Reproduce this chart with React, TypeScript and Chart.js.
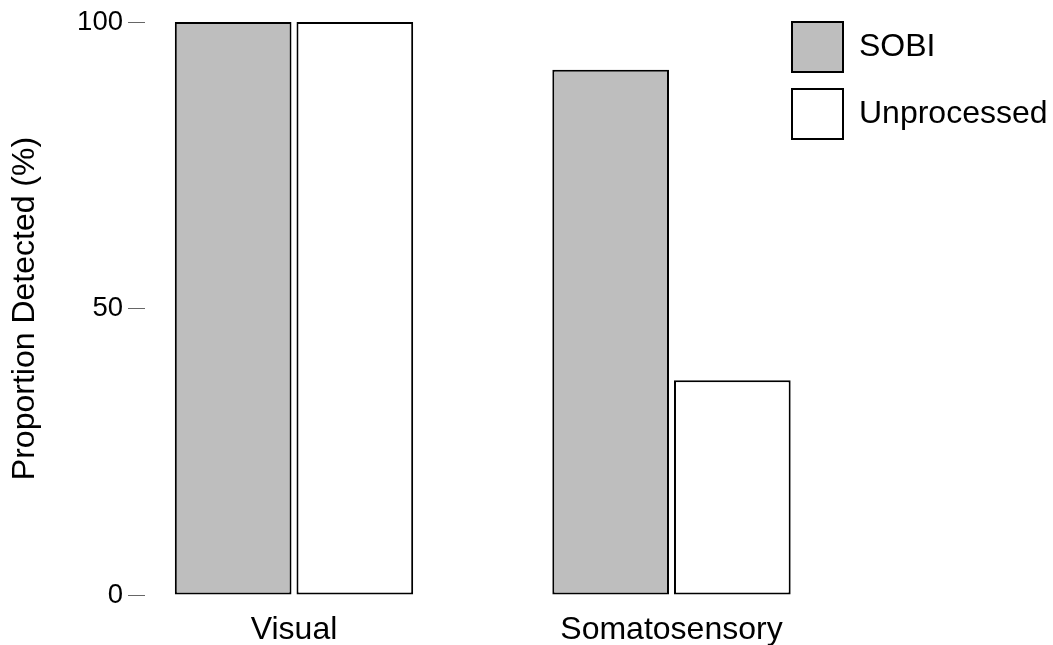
import { useEffect, useRef } from 'react';
import { Chart, registerables } from 'chart.js';

Chart.register(...registerables);

const categories = ['Visual', 'Somatosensory'];
const seriesNames = ['SOBI', 'Unprocessed'];
const sobiValues = [100, 91.67];
const unprocessedValues = [100, 37.5];
const yTickValues = [0, 50, 100];
const yTitle = 'Proportion Detected (%)';

const FONT = '"Liberation Sans", Arial, Helvetica, sans-serif';

export default function App() {
  const ref = useRef<HTMLCanvasElement>(null);

  useEffect(() => {
    if (!ref.current) return;
    const toPoints = (vals: number[]) => vals.map((y, i) => ({ x: i + 1, y }));
    const chart = new Chart(ref.current, {
      type: 'bar',
      data: {
        datasets: [
          {
            label: seriesNames[0],
            data: toPoints(sobiValues),
            backgroundColor: '#bebebe',
            borderColor: '#000000',
            borderWidth: 2,
            borderSkipped: false,
            clip: false,
          },
          {
            label: seriesNames[1],
            data: toPoints(unprocessedValues),
            backgroundColor: '#ffffff',
            borderColor: '#000000',
            borderWidth: 2,
            borderSkipped: false,
            clip: false,
          },
        ],
      } as any,
      options: {
        animation: false,
        responsive: true,
        maintainAspectRatio: false,
        layout: { padding: { top: 5, right: 0, bottom: 0, left: -59 } },
        datasets: { bar: { categoryPercentage: 0.6446, barPercentage: 0.959 } },
        scales: {
          x: {
            type: 'linear',
            offset: false,
            min: 0.6053,
            max: 2.2742,
            grid: { display: false, drawTicks: false, offset: false },
            border: { display: false },
            afterBuildTicks: (s: any) => {
              s.ticks = categories.map((_, i) => ({ value: i + 1 }));
            },
            afterFit: (s: any) => {
              s.height = 50;
              s.paddingLeft = 0;
              s.paddingRight = 0;
            },
            ticks: {
              autoSkip: false,
              maxRotation: 0,
              padding: 16,
              color: '#000000',
              font: { family: FONT, size: 32 },
              callback: (v: any) => categories[Math.round(Number(v)) - 1] ?? '',
            },
          },
          y: {
            min: 0,
            max: 100,
            afterBuildTicks: (s: any) => {
              s.ticks = yTickValues.map((v) => ({ value: v }));
            },
            afterFit: (s: any) => {
              s.width = 204;
              s.paddingTop = 22;
            },
            grid: { drawOnChartArea: false, drawTicks: true, tickLength: 17, color: '#666666', lineWidth: 1 },
            border: { display: false },
            ticks: { padding: 5, color: '#000000', font: { family: FONT, size: 27.5 } },
            title: {
              display: true,
              text: yTitle,
              color: '#000000',
              font: { family: FONT, size: 32 },
              padding: { top: 65, bottom: 0 },
            },
          },
        },
        plugins: {
          legend: {
            position: 'right',
            align: 'start',
            labels: {
              boxWidth: 51,
              boxHeight: 50,
              padding: 17,
              color: '#000000',
              font: { family: FONT, size: 32 },
            },
          },
          tooltip: { enabled: false },
        },
      } as any,
    });
    return () => chart.destroy();
  }, []);

  return (
    <div style={{ position: 'fixed', left: 0, top: 0, width: 1053, height: 645, background: '#ffffff' }}>
      <canvas ref={ref} />
    </div>
  );
}
